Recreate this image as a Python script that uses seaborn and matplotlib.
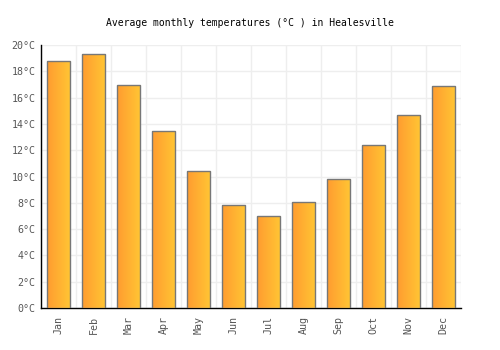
import numpy as np
import pandas as pd
import seaborn as sns
import matplotlib.pyplot as plt
from matplotlib.colors import LinearSegmentedColormap

months = ["Jan", "Feb", "Mar", "Apr", "May", "Jun", "Jul", "Aug", "Sep", "Oct", "Nov", "Dec"]
temps = [18.8, 19.3, 17.0, 13.5, 10.4, 7.8, 7.0, 8.1, 9.8, 12.4, 14.7, 16.9]
yticks = [0, 2, 4, 6, 8, 10, 12, 14, 16, 18, 20]

df = pd.DataFrame({"month": months, "temp": temps})

sns.set_style("white")
plt.rcParams["font.family"] = ["DejaVu Sans Mono"]

fig = plt.figure(figsize=(5, 3.5), dpi=100)
ax = fig.add_axes([0.082, 0.12, 0.84, 0.751])

sns.barplot(data=df, x="month", y="temp", width=0.67, color="#ffb030",
            edgecolor="#777777", linewidth=1, ax=ax, zorder=3)

# horizontal gradient inside each bar
cmap = LinearSegmentedColormap.from_list("warm", ["#ff9c30", "#ffc634"])
grad = np.linspace(0, 1, 64).reshape(1, -1)
for p in ax.patches:
    x0, y0 = p.get_x(), p.get_y()
    w, h = p.get_width(), p.get_height()
    im = ax.imshow(grad, cmap=cmap, extent=[x0, x0 + w, y0, y0 + h],
                   aspect="auto", zorder=3.5, interpolation="bilinear")
    im.set_clip_path(p)
    p.set_facecolor("none")
    p.set_zorder(4)

ax.set_xlim(-0.5, 11.5)
ax.set_ylim(0, 20)
ax.set_yticks(yticks)
ax.set_yticklabels([f"{t}°C" for t in yticks])
ax.set_xticks(np.arange(-0.5, 12, 1), minor=True)
ax.grid(True, axis="y", color="#eeeeee", linewidth=1, zorder=0)
ax.grid(True, axis="x", which="minor", color="#eeeeee", linewidth=1, zorder=0)
ax.grid(False, axis="x", which="major")
ax.set_axisbelow(True)

for s in ["top", "right"]:
    ax.spines[s].set_visible(False)
for s in ["left", "bottom"]:
    ax.spines[s].set_color("black")
    ax.spines[s].set_linewidth(1)

ax.tick_params(axis="x", which="both", length=0, labelsize=7.2, colors="#555555",
               labelrotation=90, pad=6)
ax.tick_params(axis="y", length=0, labelsize=7.2, colors="#555555", pad=4)
ax.set_xlabel("")
ax.set_ylabel("")

fig.suptitle("Average monthly temperatures (°C ) in Healesville", fontsize=7,
             y=0.95, x=0.5, color="black")

fig.savefig("out.png", dpi=100)
